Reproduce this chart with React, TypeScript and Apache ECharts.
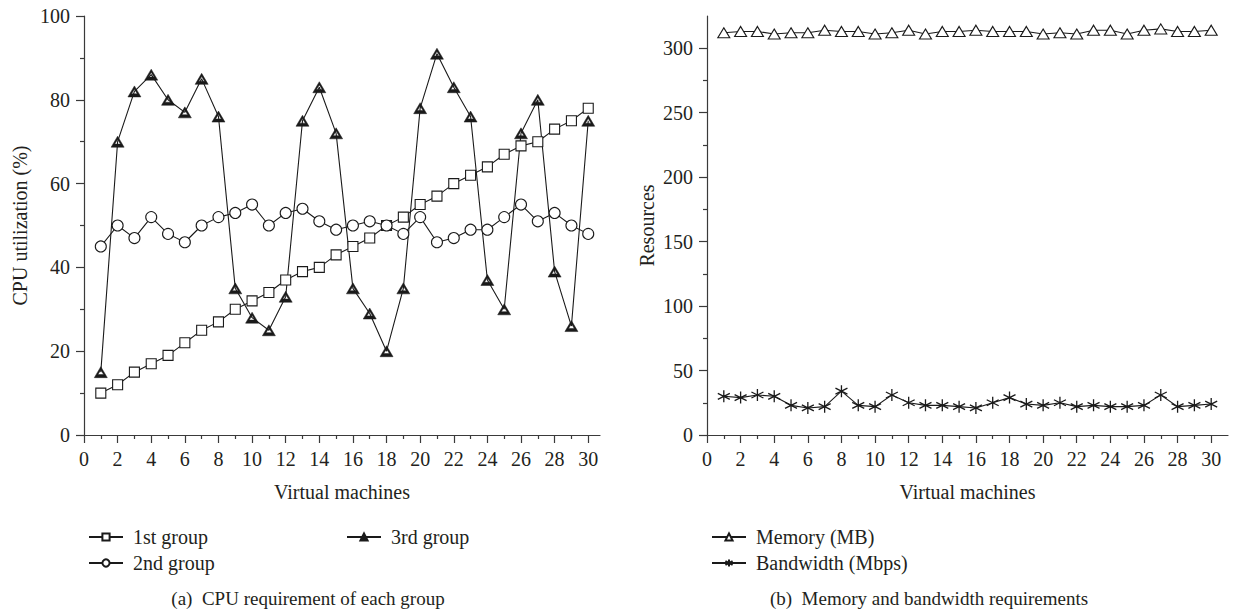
import React, { useEffect, useRef } from "react";
import * as echarts from "echarts";

const vms = [1,2,3,4,5,6,7,8,9,10,11,12,13,14,15,16,17,18,19,20,21,22,23,24,25,26,27,28,29,30];
const group1 = [10,12,15,17,19,22,25,27,30,32,34,37,39,40,43,45,47,50,52,55,57,60,62,64,67,69,70,73,75,78];
const group2 = [45,50,47,52,48,46,50,52,53,55,50,53,54,51,49,50,51,50,48,52,46,47,49,49,52,55,51,53,50,48];
const group3 = [15,70,82,86,80,77,85,76,35,28,25,33,75,83,72,35,29,20,35,78,91,83,76,37,30,72,80,39,26,75];
const memory = [312,313,313,311,312,312,314,313,313,311,312,314,311,313,313,314,313,313,313,311,312,311,314,314,311,314,315,313,313,314];
const bandwidth = [30,29,31,30,23,21,22,34,23,22,31,25,23,23,22,21,25,29,24,23,25,22,23,22,22,23,31,22,23,24];

const xMajor = [0,2,4,6,8,10,12,14,16,18,20,22,24,26,28,30];
const xMinor = [1,3,5,7,9,11,13,15,17,19,21,23,25,27,29];
const yMajorL = [0,20,40,60,80,100];
const yMinorL = [10,30,50,70,90];
const yMajorR = [0,50,100,150,200,250,300];
const yMinorR = [25,75,125,175,225,275];

const FONT = "Liberation Serif";
const TXT = "#231f20";
const AX = "#3a3a3a";
const LINE = "#1a1a1a";

const filledTri = "path://M10,0L20,17L0,17ZM10,5L5.6,12.2L14.4,12.2Z";
const star = "path://M6,0L6,12M0.8,3L11.2,9M0.8,9L11.2,3";

function pts(ys: number[]) {
  return vms.map((v, i) => [v, ys[i]]);
}

function xAxes(grid: number, max: number) {
  return [
    {
      type: "value", gridIndex: grid, min: 0, max, position: "bottom",
      name: "Virtual machines", nameLocation: "middle", nameGap: 47,
      nameTextStyle: { fontFamily: FONT, fontSize: 20, color: TXT },
      axisLine: { show: true, lineStyle: { color: AX, width: 1.2 } },
      axisTick: { show: true, length: 8, customValues: xMajor, lineStyle: { color: AX, width: 1.2 } },
      axisLabel: { show: true, customValues: xMajor, margin: 14, fontFamily: FONT, fontSize: 20, color: TXT },
      splitLine: { show: false },
    },
    {
      type: "value", gridIndex: grid, min: 0, max, position: "bottom",
      axisLine: { show: false },
      axisTick: { show: true, length: 4, customValues: xMinor, lineStyle: { color: AX, width: 1.2 } },
      axisLabel: { show: false },
      splitLine: { show: false },
    },
  ];
}

function yAxes(grid: number, max: number, major: number[], minor: number[], name: string, gap: number) {
  return [
    {
      type: "value", gridIndex: grid, min: 0, max, position: "left",
      name, nameLocation: "middle", nameGap: gap, nameRotate: 90,
      nameTextStyle: { fontFamily: FONT, fontSize: 20, color: TXT },
      axisLine: { show: true, lineStyle: { color: AX, width: 1.2 } },
      axisTick: { show: true, length: 8, customValues: major, lineStyle: { color: AX, width: 1.2 } },
      axisLabel: { show: true, customValues: major, margin: 14, fontFamily: FONT, fontSize: 20, color: TXT },
      splitLine: { show: false },
    },
    {
      type: "value", gridIndex: grid, min: 0, max, position: "left",
      axisLine: { show: false },
      axisTick: { show: true, length: 4, customValues: minor, lineStyle: { color: AX, width: 1.2 } },
      axisLabel: { show: false },
      splitLine: { show: false },
    },
  ];
}

export default function App() {
  const ref = useRef<HTMLDivElement>(null);
  useEffect(() => {
    if (!ref.current) return;
    const chart = echarts.init(ref.current, null, { renderer: "svg" });
    const lineStyle = { color: LINE, width: 1.1 };
    const legendText = { fontFamily: FONT, fontSize: 20, color: TXT, padding: [0, 0, 0, 5] };
    chart.setOption({
      animation: false,
      backgroundColor: "#ffffff",
      grid: [
        { left: 84, right: 633, top: 16, bottom: 178 },
        { left: 707, right: 5, top: 16, bottom: 178 },
      ],
      xAxis: [...xAxes(0, 30.7), ...xAxes(1, 31)],
      yAxis: [
        ...yAxes(0, 100, yMajorL, yMinorL, "CPU utilization (%)", 54),
        ...yAxes(1, 325, yMajorR, yMinorR, "Resources", 50),
      ],
      legend: [
        {
          data: ["1st group", "2nd group"], orient: "vertical", left: 83, top: 522,
          itemWidth: 34, itemHeight: 9, itemGap: 6, textStyle: legendText,
        },
        {
          data: ["3rd group"], orient: "vertical", left: 341, top: 522,
          itemWidth: 34, itemHeight: 9, itemGap: 6, textStyle: legendText,
        },
        {
          data: ["Memory (MB)", "Bandwidth (Mbps)"], orient: "vertical", left: 706, top: 522,
          itemWidth: 34, itemHeight: 9, itemGap: 6, textStyle: legendText,
        },
      ],
      series: [
        {
          name: "1st group", type: "line", xAxisIndex: 0, yAxisIndex: 0, data: pts(group1),
          symbol: "rect", symbolSize: 10, lineStyle,
          itemStyle: { color: "#ffffff", borderColor: LINE, borderWidth: 1.1 },
        },
        {
          name: "2nd group", type: "line", xAxisIndex: 0, yAxisIndex: 0, data: pts(group2),
          symbol: "circle", symbolSize: 11, lineStyle,
          itemStyle: { color: "#ffffff", borderColor: LINE, borderWidth: 1.1 },
        },
        {
          name: "3rd group", type: "line", xAxisIndex: 0, yAxisIndex: 0, data: pts(group3),
          symbol: filledTri, symbolSize: [13, 11], lineStyle,
          itemStyle: { color: LINE, borderColor: LINE, borderWidth: 0.5 },
          z: 3,
        },
        {
          name: "Memory (MB)", type: "line", xAxisIndex: 2, yAxisIndex: 2, data: pts(memory),
          symbol: "triangle", symbolSize: [12, 10], lineStyle,
          itemStyle: { color: "#ffffff", borderColor: LINE, borderWidth: 1.1 },
        },
        {
          name: "Bandwidth (Mbps)", type: "line", xAxisIndex: 2, yAxisIndex: 2, data: pts(bandwidth),
          symbol: star, symbolSize: 12, lineStyle,
          itemStyle: { color: "none", borderColor: LINE, borderWidth: 1.3 },
        },
      ],
      graphic: [
        {
          type: "text", x: 308, y: 598,
          style: { text: "(a)  CPU requirement of each group", fontFamily: FONT, fontSize: 19, fill: TXT, align: "center", verticalAlign: "middle" },
        },
        {
          type: "text", x: 929, y: 598,
          style: { text: "(b)  Memory and bandwidth requirements", fontFamily: FONT, fontSize: 19, fill: TXT, align: "center", verticalAlign: "middle" },
        },
      ],
    });
    return () => chart.dispose();
  }, []);
  return <div ref={ref} style={{ width: 1233, height: 613, position: "absolute", left: 0, top: 0 }} />;
}
